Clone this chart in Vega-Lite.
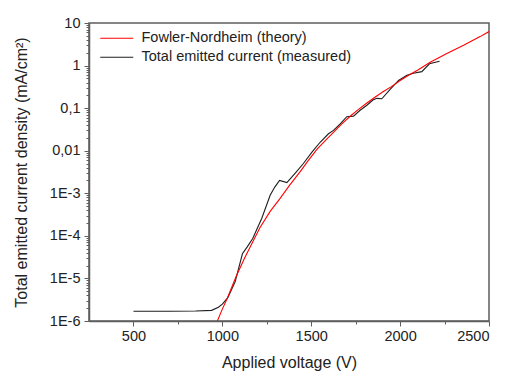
{
  "$schema": "https://vega.github.io/schema/vega-lite/v6.json",
  "width": 400,
  "height": 298,
  "autosize": {"type": "none"},
  "padding": {"left": 89, "top": 23, "right": 18, "bottom": 51},
  "data": {
    "values": [
      {"series": "Total emitted current (measured)", "V": 500, "J": 1.7e-6},
      {"series": "Total emitted current (measured)", "V": 700, "J": 1.7e-6},
      {"series": "Total emitted current (measured)", "V": 850, "J": 1.72e-6},
      {"series": "Total emitted current (measured)", "V": 940, "J": 1.78e-6},
      {"series": "Total emitted current (measured)", "V": 978, "J": 2.1e-6},
      {"series": "Total emitted current (measured)", "V": 1000, "J": 2.5e-6},
      {"series": "Total emitted current (measured)", "V": 1030, "J": 3.5e-6},
      {"series": "Total emitted current (measured)", "V": 1072, "J": 8.3e-6},
      {"series": "Total emitted current (measured)", "V": 1113, "J": 3.8e-5},
      {"series": "Total emitted current (measured)", "V": 1140, "J": 5.5e-5},
      {"series": "Total emitted current (measured)", "V": 1171, "J": 8.7e-5},
      {"series": "Total emitted current (measured)", "V": 1222, "J": 2.6e-4},
      {"series": "Total emitted current (measured)", "V": 1269, "J": 9.0e-4},
      {"series": "Total emitted current (measured)", "V": 1295, "J": 1.4e-3},
      {"series": "Total emitted current (measured)", "V": 1322, "J": 2.0e-3},
      {"series": "Total emitted current (measured)", "V": 1363, "J": 1.78e-3},
      {"series": "Total emitted current (measured)", "V": 1409, "J": 2.95e-3},
      {"series": "Total emitted current (measured)", "V": 1456, "J": 5.0e-3},
      {"series": "Total emitted current (measured)", "V": 1503, "J": 9.1e-3},
      {"series": "Total emitted current (measured)", "V": 1550, "J": 0.0158},
      {"series": "Total emitted current (measured)", "V": 1597, "J": 0.025},
      {"series": "Total emitted current (measured)", "V": 1625, "J": 0.030},
      {"series": "Total emitted current (measured)", "V": 1663, "J": 0.0427},
      {"series": "Total emitted current (measured)", "V": 1700, "J": 0.063},
      {"series": "Total emitted current (measured)", "V": 1738, "J": 0.065},
      {"series": "Total emitted current (measured)", "V": 1775, "J": 0.089},
      {"series": "Total emitted current (measured)", "V": 1813, "J": 0.117},
      {"series": "Total emitted current (measured)", "V": 1847, "J": 0.155},
      {"series": "Total emitted current (measured)", "V": 1869, "J": 0.17},
      {"series": "Total emitted current (measured)", "V": 1897, "J": 0.166},
      {"series": "Total emitted current (measured)", "V": 1944, "J": 0.275},
      {"series": "Total emitted current (measured)", "V": 1991, "J": 0.447},
      {"series": "Total emitted current (measured)", "V": 2038, "J": 0.59},
      {"series": "Total emitted current (measured)", "V": 2075, "J": 0.66},
      {"series": "Total emitted current (measured)", "V": 2122, "J": 0.72},
      {"series": "Total emitted current (measured)", "V": 2165, "J": 1.10},
      {"series": "Total emitted current (measured)", "V": 2222, "J": 1.26},
      {"series": "Fowler-Nordheim (theory)", "V": 972, "J": 1.0e-6},
      {"series": "Fowler-Nordheim (theory)", "V": 1000, "J": 1.9e-6},
      {"series": "Fowler-Nordheim (theory)", "V": 1030, "J": 3.55e-6},
      {"series": "Fowler-Nordheim (theory)", "V": 1075, "J": 1.05e-5},
      {"series": "Fowler-Nordheim (theory)", "V": 1124, "J": 2.95e-5},
      {"series": "Fowler-Nordheim (theory)", "V": 1170, "J": 7.1e-5},
      {"series": "Fowler-Nordheim (theory)", "V": 1212, "J": 1.58e-4},
      {"series": "Fowler-Nordheim (theory)", "V": 1270, "J": 3.8e-4},
      {"series": "Fowler-Nordheim (theory)", "V": 1325, "J": 7.6e-4},
      {"series": "Fowler-Nordheim (theory)", "V": 1380, "J": 1.58e-3},
      {"series": "Fowler-Nordheim (theory)", "V": 1438, "J": 3.24e-3},
      {"series": "Fowler-Nordheim (theory)", "V": 1485, "J": 6.0e-3},
      {"series": "Fowler-Nordheim (theory)", "V": 1532, "J": 0.0107},
      {"series": "Fowler-Nordheim (theory)", "V": 1580, "J": 0.0174},
      {"series": "Fowler-Nordheim (theory)", "V": 1625, "J": 0.0269},
      {"series": "Fowler-Nordheim (theory)", "V": 1672, "J": 0.0427},
      {"series": "Fowler-Nordheim (theory)", "V": 1719, "J": 0.0646},
      {"series": "Fowler-Nordheim (theory)", "V": 1766, "J": 0.0933},
      {"series": "Fowler-Nordheim (theory)", "V": 1813, "J": 0.132},
      {"series": "Fowler-Nordheim (theory)", "V": 1860, "J": 0.182},
      {"series": "Fowler-Nordheim (theory)", "V": 1906, "J": 0.245},
      {"series": "Fowler-Nordheim (theory)", "V": 1953, "J": 0.324},
      {"series": "Fowler-Nordheim (theory)", "V": 2000, "J": 0.447},
      {"series": "Fowler-Nordheim (theory)", "V": 2050, "J": 0.60},
      {"series": "Fowler-Nordheim (theory)", "V": 2100, "J": 0.79},
      {"series": "Fowler-Nordheim (theory)", "V": 2169, "J": 1.20},
      {"series": "Fowler-Nordheim (theory)", "V": 2263, "J": 1.91},
      {"series": "Fowler-Nordheim (theory)", "V": 2357, "J": 2.99},
      {"series": "Fowler-Nordheim (theory)", "V": 2450, "J": 4.79},
      {"series": "Fowler-Nordheim (theory)", "V": 2500, "J": 6.31}
    ]
  },
  "layer": [
    {
      "mark": {"type": "point", "opacity": 0},
      "encoding": {
        "x": {
          "field": "V", "type": "quantitative",
          "scale": {"domain": [250, 2500], "nice": false, "zero": false},
          "axis": {"orient": "bottom", "values": [750, 1250, 1750, 2250], "labels": false, "domain": false, "tickSize": 3, "title": null}
        },
        "y": {
          "field": "J", "type": "quantitative",
          "scale": {"type": "log", "domain": [1e-6, 10], "nice": false},
          "axis": {
            "orient": "left", "labels": false, "domain": false, "tickSize": 3, "title": null,
            "values": [2e-6, 3e-6, 4e-6, 5e-6, 6e-6, 7e-6, 8e-6, 9e-6,
                       2e-5, 3e-5, 4e-5, 5e-5, 6e-5, 7e-5, 8e-5, 9e-5,
                       2e-4, 3e-4, 4e-4, 5e-4, 6e-4, 7e-4, 8e-4, 9e-4,
                       2e-3, 3e-3, 4e-3, 5e-3, 6e-3, 7e-3, 8e-3, 9e-3,
                       0.02, 0.03, 0.04, 0.05, 0.06, 0.07, 0.08, 0.09,
                       0.2, 0.3, 0.4, 0.5, 0.6, 0.7, 0.8, 0.9,
                       2, 3, 4, 5, 6, 7, 8, 9]
          }
        }
      }
    },
    {
      "mark": {"type": "line", "strokeWidth": 1.1, "clip": true},
      "encoding": {
        "x": {
          "field": "V", "type": "quantitative",
          "scale": {"domain": [250, 2500], "nice": false, "zero": false},
          "axis": {
            "orient": "bottom", "values": [500, 1000, 1500, 2000, 2500], "tickSize": 5, "format": "d",
            "labelPadding": 3, "title": "Applied voltage (V)", "titlePadding": 12
          }
        },
        "y": {
          "field": "J", "type": "quantitative",
          "scale": {"type": "log", "domain": [1e-6, 10], "nice": false},
          "axis": {
            "orient": "left", "values": [1e-6, 1e-5, 1e-4, 1e-3, 0.01, 0.1, 1, 10], "tickSize": 5,
            "labelPadding": 4,
            "labelExpr": "datum.value >= 1 ? '' + round(datum.value) : datum.value > 0.05 ? '0,1' : datum.value > 0.005 ? '0,01' : '1E' + round(log(datum.value) / LN10)",
            "title": "Total emitted current density (mA/cm²)", "titlePadding": 20
          }
        },
        "color": {
          "field": "series", "type": "nominal",
          "scale": {"domain": ["Fowler-Nordheim (theory)", "Total emitted current (measured)"], "range": ["#ff0000", "#1e1e1e"]},
          "legend": {
            "title": null, "orient": "none", "legendX": 20.5, "legendY": 8,
            "symbolType": "M-4.125,0H4.125", "symbolSize": 64, "symbolStrokeWidth": 1.1,
            "labelOffset": 17.5, "labelFontSize": 14.5, "labelLimit": 400, "labelColor": "#222", "rowPadding": 4, "padding": 0
          }
        }
      }
    }
  ],
  "resolve": {"axis": {"x": "independent", "y": "independent"}},
  "config": {
    "font": "Liberation Sans",
    "view": {"stroke": "#5e5e5e", "strokeWidth": 1.5},
    "axis": {
      "grid": false,
      "domainColor": "#5e5e5e", "domainWidth": 1.5,
      "tickColor": "#5e5e5e", "tickWidth": 1,
      "labelFontSize": 14.5, "labelColor": "#222", "labelFont": "Liberation Sans",
      "titleFontSize": 16, "titleFontWeight": "normal", "titleColor": "#222", "titleFont": "Liberation Sans"
    }
  }
}
